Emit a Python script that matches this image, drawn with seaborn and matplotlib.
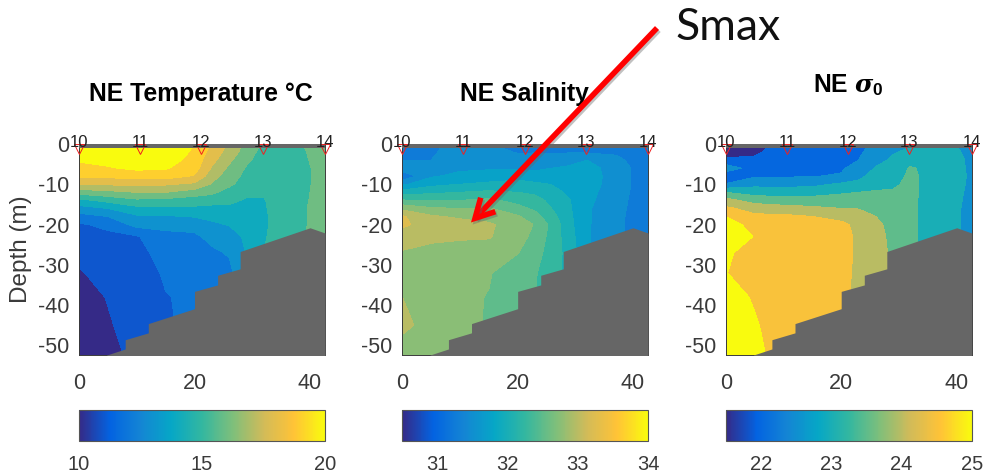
import numpy as np
import matplotlib
matplotlib.use("Agg")
import matplotlib.pyplot as plt
from matplotlib.patches import FancyArrowPatch
from matplotlib.cm import ScalarMappable
from matplotlib.colors import Normalize
import matplotlib.patheffects as pe
import seaborn as sns

sns.set_theme(style="white")
plt.rcParams['font.family'] = ['Liberation Sans', 'DejaVu Sans']
plt.rcParams['mathtext.fontset'] = 'custom'
plt.rcParams['mathtext.it'] = 'DejaVu Serif:italic:bold'
plt.rcParams['mathtext.bf'] = 'Liberation Sans:bold'

W, H = 983, 475
DIST = [0, 5, 10, 15, 20, 23, 26, 29, 32, 37, 42.6]
DEPTH = [0, -2, -4, -6, -8, -10, -12, -14, -16, -18, -20, -23, -27, -32, -38, -45, -53]

temp_cols = [
    [20.6,20.3,20.1,19.7,19.2,18.1,16.4,14.7,13.6,12.6,11.9,11.6,11.3,10.9,10.6,10.3,10.1],
    [20.8,20.6,20.3,19.9,19.2,18.1,16.7,15.3,14.0,13.0,12.2,11.8,11.6,11.4,11.05,10.9,10.6],
    [21,20.9,20.6,20.2,19.4,18.2,17,15.8,14.7,13.85,13.33,11.9,11.6,11.4,11.3,11.4,11.3],
    [21,20.8,20.5,20.1,19.4,18.1,17,15.7,14.7,13.9,13.2,12.8,12.5,12.15,11.95,11.9,11.8],
    [20,19.8,19.6,19.4,18.9,17.8,16.5,15.5,14.8,14.05,13.4,12.8,12.5,12.3,12.2,12.2,12.2],
    [18.9,18.6,18.3,17.9,17.4,16.9,16.2,15.4,14.7,14.2,13.85,13.3,12.8,12.3,12,12,12],
    [17.85,17.6,17.2,16.8,16.5,16.2,15.6,15.2,14.8,14.4,14.05,13.5,13.1,12.7,12.5,12.5,12.5],
    [16.7,16.5,16.2,15.9,15.7,15.5,15.2,14.9,14.7,14.5,14.4,14.2,14.05,14,14,14,14],
    [15.8,15.6,15.5,15.4,15.3,15.2,15.1,14.95,14.9,14.85,14.85,14.9,15,15,15,15,15],
    [15.8,15.7,15.65,15.6,15.6,15.6,15.65,15.7,15.75,15.75,15.75,15.8,15.8,15.8,15.8,15.8,15.8],
    [16.4,16.4,16.35,16.3,16.3,16.3,16.3,16.3,16.3,16.3,16.3,16.3,16.3,16.3,16.3,16.3,16.3],
]
sal_cols = [
    [31.2,31.35,31.5,31.65,31.3,31.7,32.12,32.52,32.93,33.28,33.3,33.12,32.98,32.85,33.0,33.08,32.8],
    [31.42,31.47,31.5,31.6,31.72,31.93,32.2,32.5,32.78,33.04,33.13,33.07,32.9,32.82,32.85,32.88,32.8],
    [31.62,31.6,31.65,31.7,31.82,32,32.25,32.5,32.75,32.95,33.12,33.03,32.9,32.82,32.8,32.78,32.75],
    [31.52,31.6,31.67,31.72,31.87,32.05,32.3,32.55,32.77,32.92,33.03,33.02,32.88,32.77,32.74,32.74,32.7],
    [31.3,31.48,31.6,31.72,31.9,32.1,32.25,32.42,32.58,32.78,32.9,32.85,32.76,32.6,32.55,32.5,32.5],
    [31.35,31.49,31.58,31.7,31.85,32.05,32.2,32.35,32.45,32.6,32.73,32.68,32.6,32.52,32.5,32.5,32.5],
    [31.35,31.47,31.6,31.75,31.88,31.99,32.07,32.17,32.24,32.33,32.42,32.4,32.38,32.37,32.37,32.37,32.37],
    [31.35,31.48,31.68,31.78,31.85,31.9,31.96,32.01,32.03,32.05,32.07,32.1,32.15,32.15,32.15,32.15,32.15],
    [31.35,31.47,31.75,31.82,31.83,31.82,31.81,31.8,31.78,31.78,31.78,31.78,31.78,31.78,31.78,31.78,31.78],
    [31.35,31.45,31.58,31.67,31.68,31.68,31.65,31.62,31.6,31.58,31.57,31.57,31.57,31.57,31.57,31.57,31.57],
    [31.3,31.3,31.3,31.3,31.3,31.3,31.3,31.3,31.3,31.3,31.3,31.3,31.3,31.3,31.3,31.3,31.3],
]
sig_cols = [
    [21.6,21.75,22.1,22.8,22.1,22.53,23.5,24.17,24.6,25,25.25,25.3,25.1,25.02,25.2,25.3,25.3],
    [21.7,21.9,22.1,22.25,22.45,22.85,23.3,23.8,24.3,24.6,24.8,24.98,24.75,24.7,24.95,25.05,25.1],
    [22.25,22.27,22.3,22.35,22.45,22.85,23.25,23.7,24.2,24.6,24.65,24.7,24.7,24.7,24.7,24.75,24.85],
    [22.3,22.32,22.35,22.4,22.48,22.87,23.3,23.7,24.1,24.5,24.6,24.65,24.65,24.6,24.6,24.6,24.6],
    [22.3,22.33,22.38,22.43,22.55,23.08,23.43,23.75,24,24.4,24.57,24.6,24.6,24.6,24.6,24.6,24.6],
    [22.35,22.42,22.5,22.7,22.9,23.1,23.5,23.75,23.98,24.25,24.42,24.45,24.45,24.43,24.4,24.4,24.4],
    [22.58,22.72,22.87,23.03,23.17,23.33,23.55,23.72,23.87,24,24.13,24.2,24.2,24.2,24.2,24.2,24.2],
    [22.85,22.97,23.07,23.2,23.3,23.42,23.55,23.62,23.68,23.75,23.8,23.85,23.9,23.9,23.9,23.9,23.9],
    [22.95,23.08,23.3,23.55,23.6,23.62,23.63,23.63,23.63,23.63,23.63,23.63,23.63,23.63,23.63,23.63,23.63],
    [23.15,23.2,23.25,23.28,23.25,23.2,23.15,23.12,23.1,23.1,23.1,23.1,23.1,23.1,23.1,23.1,23.1],
    [22.85,22.9,22.93,22.93,22.95,22.95,22.95,22.95,22.95,22.95,22.95,22.95,22.95,22.95,22.95,22.95,22.95],
]

temp_levels = [10, 11, 12, 13, 14, 15, 16, 17, 18, 19, 20]
sal_levels = [31.25, 31.5, 31.75, 32, 32.25, 32.5, 32.75, 33, 33.25]
sig_levels = [21.5, 22, 22.5, 23, 23.5, 24, 24.5, 25]

temp_range, sal_range, sig_range = (10, 20), (30.5, 34), (21.5, 25)
temp_ticks, sal_ticks, sig_ticks = [10, 15, 20], [31, 32, 33, 34], [22, 23, 24, 25]

bottom_x = [4.8, 8.0, 8.0, 12.0, 12.0, 20.0, 20.0, 24.0, 24.0, 27.9, 27.9, 40.0, 42.6]
bottom_z = [-52.4, -50.9, -48.6, -46.9, -44.6, -40.9, -36.6, -35.0, -32.6, -31.0, -26.7, -20.8, -22.1]

stations = ['10', '11', '12', '13', '14']
station_x = [0, 10.6, 21.2, 31.8, 42.6]

GRAY = '#666666'
INK = '#3a3a3a'
parula = sns.blend_palette(['#352a87', '#0363e1', '#1485d4', '#06a7c6', '#33b7a0',
                            '#7ebf7b', '#d1bb59', '#ffc337', '#f9fb0e'], n_colors=256, as_cmap=True)


def axpx(fig, x0, x1, y0, y1):
    return fig.add_axes([x0 / W, 1 - y1 / H, (x1 - x0) / W, (y1 - y0) / H])


fig = plt.figure(figsize=(W / 100, H / 100), dpi=100)

panels = [
    (temp_cols, temp_levels, temp_range, temp_ticks, 79, 325),
    (sal_cols, sal_levels, sal_range, sal_ticks, 402.3, 648),
    (sig_cols, sig_levels, sig_range, sig_ticks, 725.7, 971.7),
]
for i, (cols, levels, vr, ticks, x0, x1) in enumerate(panels):
    ax = axpx(fig, x0, x1, 144, 355)
    Z = np.array(cols).T
    norm = Normalize(*vr)
    edges = [Z.min() - 1] + levels[1:] + [Z.max() + 1]
    colors = [parula(norm(v)) for v in levels]
    for _ in range(2):
        ax.contourf(DIST, DEPTH, Z, levels=edges, colors=colors)
    ax.fill_between(bottom_x + [42.6], [-53] * (len(bottom_x) + 1),
                    bottom_z + [bottom_z[-1]], color=GRAY, lw=0, zorder=3)
    ax.axhspan(-0.9, 0, color=GRAY, lw=0, zorder=3)
    ax.set_xlim(0, 42.6)
    ax.set_ylim(-52.4, 0)
    ax.set_xticks([0, 20, 40])
    ax.set_yticks([0, -10, -20, -30, -40, -50])
    ax.set_yticklabels(['0', '-10', '-20', '-30', '-40', '-50'])
    ax.tick_params(direction='in', length=2.5, width=0.6, color=INK, labelcolor=INK,
                   labelsize=15.5, top=True, right=True, left=True, bottom=True, pad=13)
    ax.tick_params(axis='y', pad=7)
    for s in ax.spines.values():
        s.set_color(INK)
        s.set_linewidth(0.7)
    ax.plot(station_x, [-1.2] * 5, ls='none', marker='v', ms=7, mfc='none', mec='#f02020',
            mew=0.7, clip_on=False, zorder=6)
    for sx, st in zip(station_x, stations):
        ax.annotate(st, (sx, 0), xytext=(0, -4.2), textcoords='offset points', ha='center',
                    va='bottom', fontsize=12, color='#222222', zorder=7, annotation_clip=False)
    if i == 0:
        ax.set_ylabel('Depth (m)', fontsize=17.5, color=INK, labelpad=0)
        ax.yaxis.set_label_coords(-47 / (x1 - x0), 0.5)

    cax = axpx(fig, x0, x1, 409.5, 441)
    cb = fig.colorbar(ScalarMappable(norm=norm, cmap=parula), cax=cax, orientation='horizontal')
    cb.set_ticks(ticks)
    cb.set_ticklabels([str(t) for t in ticks])
    cax.tick_params(direction='in', length=2, width=0.5, color=INK, labelcolor=INK,
                    labelsize=14.5, pad=10)
    cb.outline.set_edgecolor('#555555')
    cb.outline.set_linewidth(0.8)

title_kw = dict(fontsize=17.8, fontweight='bold', color='black', ha='center', va='center')
fig.text(201 / W, 1 - 94 / H, 'NE Temperature °C', **title_kw)
fig.text(524.5 / W, 1 - 94 / H, 'NE Salinity', **title_kw)
fig.text(848 / W, 1 - 85 / H, r'NE $\mathit{\sigma}_{\mathbf{0}}$', **title_kw)

fig.text(728.5 / W, 1 - 28 / H, 'Smax', fontsize=32, family='Lato', color='#111111', ha='center', va='center')

arrow = FancyArrowPatch((657 / W, 1 - 28 / H), (471 / W, 1 - 222.5 / H), transform=fig.transFigure,
                        arrowstyle='->,head_length=5.2,head_width=2.8', color='#ff0000', lw=4,
                        shrinkA=0, shrinkB=0, zorder=20, joinstyle='miter', capstyle='butt',
                        mutation_scale=2.6)
arrow.set_path_effects([pe.SimpleLineShadow(offset=(1.2, -1.5), shadow_color='#666666', alpha=0.4),
                        pe.Normal()])
fig.add_artist(arrow)

fig.savefig('out.png', dpi=100)
